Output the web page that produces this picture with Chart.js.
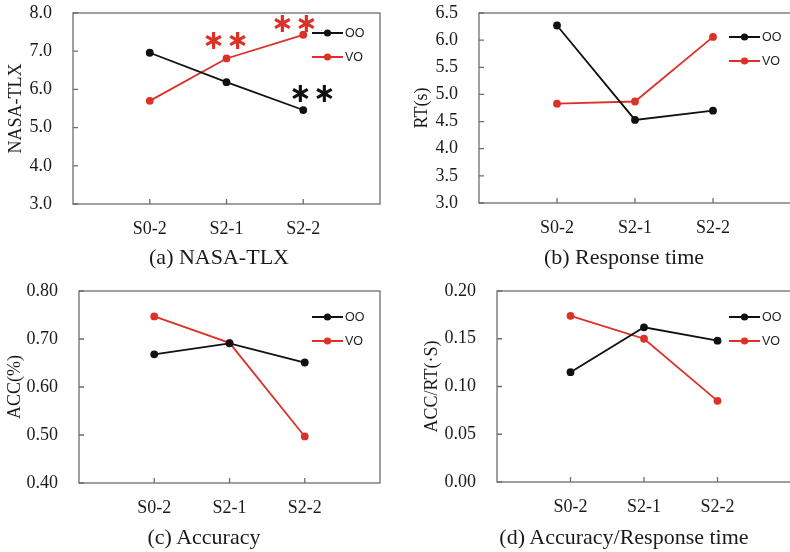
<!DOCTYPE html>
<html>
<head>
<meta charset="utf-8">
<script src="https://cdn.jsdelivr.net/npm/chart.js@4/dist/chart.umd.min.js"></script>
<style>
html, body { margin: 0; padding: 0; background: #fff; overflow: hidden; }
#wrap { position: relative; width: 790px; height: 552px; overflow: hidden; }
canvas { position: absolute; }
.cap { position: absolute; width: 400px; text-align: center; font-family: 'Liberation Serif', serif;
       font-size: 22px; line-height: 26px; color: #1a1a1a; white-space: nowrap; }
</style>
</head>
<body>
<div id="wrap">
  <canvas id="c1" width="395" height="276" style="left:0;top:0"></canvas>
  <canvas id="c2" width="410" height="276" style="left:395px;top:0"></canvas>
  <canvas id="c3" width="395" height="276" style="left:0;top:276px"></canvas>
  <canvas id="c4" width="410" height="276" style="left:395px;top:276px"></canvas>
  <div class="cap" style="left:19px;top:244px">(a) NASA-TLX</div>
  <div class="cap" style="left:424px;top:244px">(b) Response time</div>
  <div class="cap" style="left:4px;top:524px">(c) Accuracy</div>
  <div class="cap" style="left:424px;top:524px">(d) Accuracy/Response time</div>
</div>
<script>
// 数据
const categories = ['S0-2', 'S2-1', 'S2-2'];
const seriesNames = ['OO', 'VO'];

const tlxOO = [6.96, 6.19, 5.46];
const tlxVO = [5.70, 6.81, 7.43];
const tlxTicks = [3.0, 4.0, 5.0, 6.0, 7.0, 8.0];
// 显著性标记: [系列, 类别]
const tlxMarks = [[1, 1], [1, 2], [0, 2]];

const rtOO = [6.27, 4.53, 4.70];
const rtVO = [4.83, 4.87, 6.06];
const rtTicks = [3.0, 3.5, 4.0, 4.5, 5.0, 5.5, 6.0, 6.5];

const accOO = [0.668, 0.691, 0.651];
const accVO = [0.747, 0.692, 0.497];
const accTicks = [0.40, 0.50, 0.60, 0.70, 0.80];

const effOO = [0.115, 0.162, 0.148];
const effVO = [0.174, 0.150, 0.085];
const effTicks = [0.00, 0.05, 0.10, 0.15, 0.20];

const RED = '#dd3027';
const BLACK = '#111111';
const AXIS = '#6e6e6e';

Chart.defaults.font.family = "'Liberation Serif', serif";
Chart.defaults.color = '#1a1a1a';

function pts(values) {
    return values.map((v, i) => ({ x: i + 1, y: v }));
}

// 边框、内刻度、图例、星号
const panelDecor = {
    id: 'panelDecor',
    beforeDatasetsDraw(chart, args, o) {
        const { ctx, chartArea: a, scales: { x, y } } = chart;
        ctx.save();
        ctx.strokeStyle = AXIS;
        ctx.lineWidth = 1.3;
        ctx.strokeRect(a.left, a.top, a.right - a.left, a.bottom - a.top);
        ctx.beginPath();
        y.ticks.forEach(t => {
            const py = y.getPixelForValue(t.value);
            ctx.moveTo(a.left, py);
            ctx.lineTo(a.left + 5, py);
        });
        x.ticks.forEach(t => {
            const px = x.getPixelForValue(t.value);
            ctx.moveTo(px, a.bottom);
            ctx.lineTo(px, a.bottom - 5);
        });
        ctx.stroke();
        ctx.restore();
    },
    afterDraw(chart, args, o) {
        const { ctx } = chart;
        ctx.save();
        chart.data.datasets.forEach((ds, i) => {
            const ly = o.legendY + i * 24;
            ctx.strokeStyle = ds.borderColor;
            ctx.lineWidth = 2;
            ctx.beginPath();
            ctx.moveTo(o.legendX, ly);
            ctx.lineTo(o.legendX + 31, ly);
            ctx.stroke();
            ctx.fillStyle = ds.borderColor;
            ctx.beginPath();
            ctx.arc(o.legendX + 15.5, ly, 3.6, 0, Math.PI * 2);
            ctx.fill();
            ctx.fillStyle = '#222';
            ctx.font = "12.5px 'Liberation Sans'";
            ctx.textAlign = 'left';
            ctx.textBaseline = 'middle';
            ctx.fillText(ds.label, o.legendX + 33, ly + 1);
        });
        // 两个星号
        (o.marks || []).forEach((m, k) => {
            const ds = chart.data.datasets[m[0]];
            const px = chart.scales.x.getPixelForValue(m[1] + 1) + o.markOffsets[k][0];
            const py = chart.scales.y.getPixelForValue(ds.data[m[1]].y) + o.markOffsets[k][1];
            ctx.fillStyle = ds.borderColor;
            ctx.font = "bold 27px 'DejaVu Sans'";
            ctx.textAlign = 'center';
            ctx.textBaseline = 'middle';
            ctx.fillText('\u2217', px - 12, py);
            ctx.fillText('\u2217', px + 12, py);
        });
        ctx.restore();
    }
};

function makePanel(id, cfg) {
    const canvas = document.getElementById(id);
    const W = canvas.width, H = canvas.height;
    const a = cfg.area;
    return new Chart(canvas, {
        type: 'line',
        data: {
            datasets: [
                { label: seriesNames[0], data: pts(cfg.oo), borderColor: BLACK, backgroundColor: BLACK },
                { label: seriesNames[1], data: pts(cfg.vo), borderColor: RED, backgroundColor: RED }
            ]
        },
        options: {
            responsive: false,
            animation: false,
            elements: {
                line: { borderWidth: 1.8, tension: 0 },
                point: { radius: 3.9, hoverRadius: 3.9, borderWidth: 0 }
            },
            layout: { padding: { left: 0, top: a.top, right: W - a.right, bottom: 0 } },
            scales: {
                x: {
                    type: 'linear',
                    min: 0,
                    max: categories.length + 1,
                    grid: { display: false, drawTicks: false },
                    border: { display: false },
                    afterBuildTicks: s => { s.ticks = categories.map((c, i) => ({ value: i + 1 })); },
                    afterFit: s => { s.height = H - a.bottom; s.paddingLeft = 0; s.paddingRight = 0; },
                    ticks: {
                        padding: 14,
                        autoSkip: false,
                        maxRotation: 0,
                        font: { size: 18 },
                        callback: v => categories[v - 1]
                    }
                },
                y: {
                    min: cfg.ticks[0],
                    max: cfg.ticks[cfg.ticks.length - 1],
                    grid: { display: false, drawTicks: false },
                    border: { display: false },
                    afterBuildTicks: s => { s.ticks = cfg.ticks.map(v => ({ value: v })); },
                    afterFit: s => { s.width = a.left; s.paddingTop = 0; s.paddingBottom = 0; },
                    ticks: {
                        padding: 21,
                        autoSkip: false,
                        font: { size: 18 },
                        callback: v => v.toFixed(cfg.decimals)
                    },
                    title: {
                        display: true,
                        text: cfg.yTitle,
                        font: { size: 18 },
                        padding: { top: cfg.titlePad, bottom: 0 }
                    }
                }
            },
            plugins: {
                legend: { display: false },
                tooltip: { enabled: false },
                panelDecor: {
                    legendX: cfg.legendX,
                    legendY: cfg.legendY,
                    marks: cfg.marks,
                    markOffsets: cfg.markOffsets
                }
            }
        },
        plugins: [panelDecor]
    });
}

makePanel('c1', {
    oo: tlxOO, vo: tlxVO, ticks: tlxTicks, decimals: 1, yTitle: 'NASA-TLX', titlePad: 5,
    area: { left: 73, top: 13, right: 380, bottom: 204 },
    legendX: 312, legendY: 33,
    marks: tlxMarks, markOffsets: [[-1, -16], [-9, -10], [9, -15]]
});
makePanel('c2', {
    oo: rtOO, vo: rtVO, ticks: rtTicks, decimals: 1, yTitle: 'RT(s)', titlePad: 16,
    area: { left: 84, top: 13, right: 396, bottom: 203 },
    legendX: 334, legendY: 37
});
makePanel('c3', {
    oo: accOO, vo: accVO, ticks: accTicks, decimals: 2, yTitle: 'ACC(%)', titlePad: 4,
    area: { left: 79, top: 15, right: 380, bottom: 207 },
    legendX: 312, legendY: 41
});
makePanel('c4', {
    oo: effOO, vo: effVO, ticks: effTicks, decimals: 2, yTitle: 'ACC/RT(·S)', titlePad: 26,
    area: { left: 102, top: 15, right: 396, bottom: 206 },
    legendX: 334, legendY: 41
});
</script>
</body>
</html>
